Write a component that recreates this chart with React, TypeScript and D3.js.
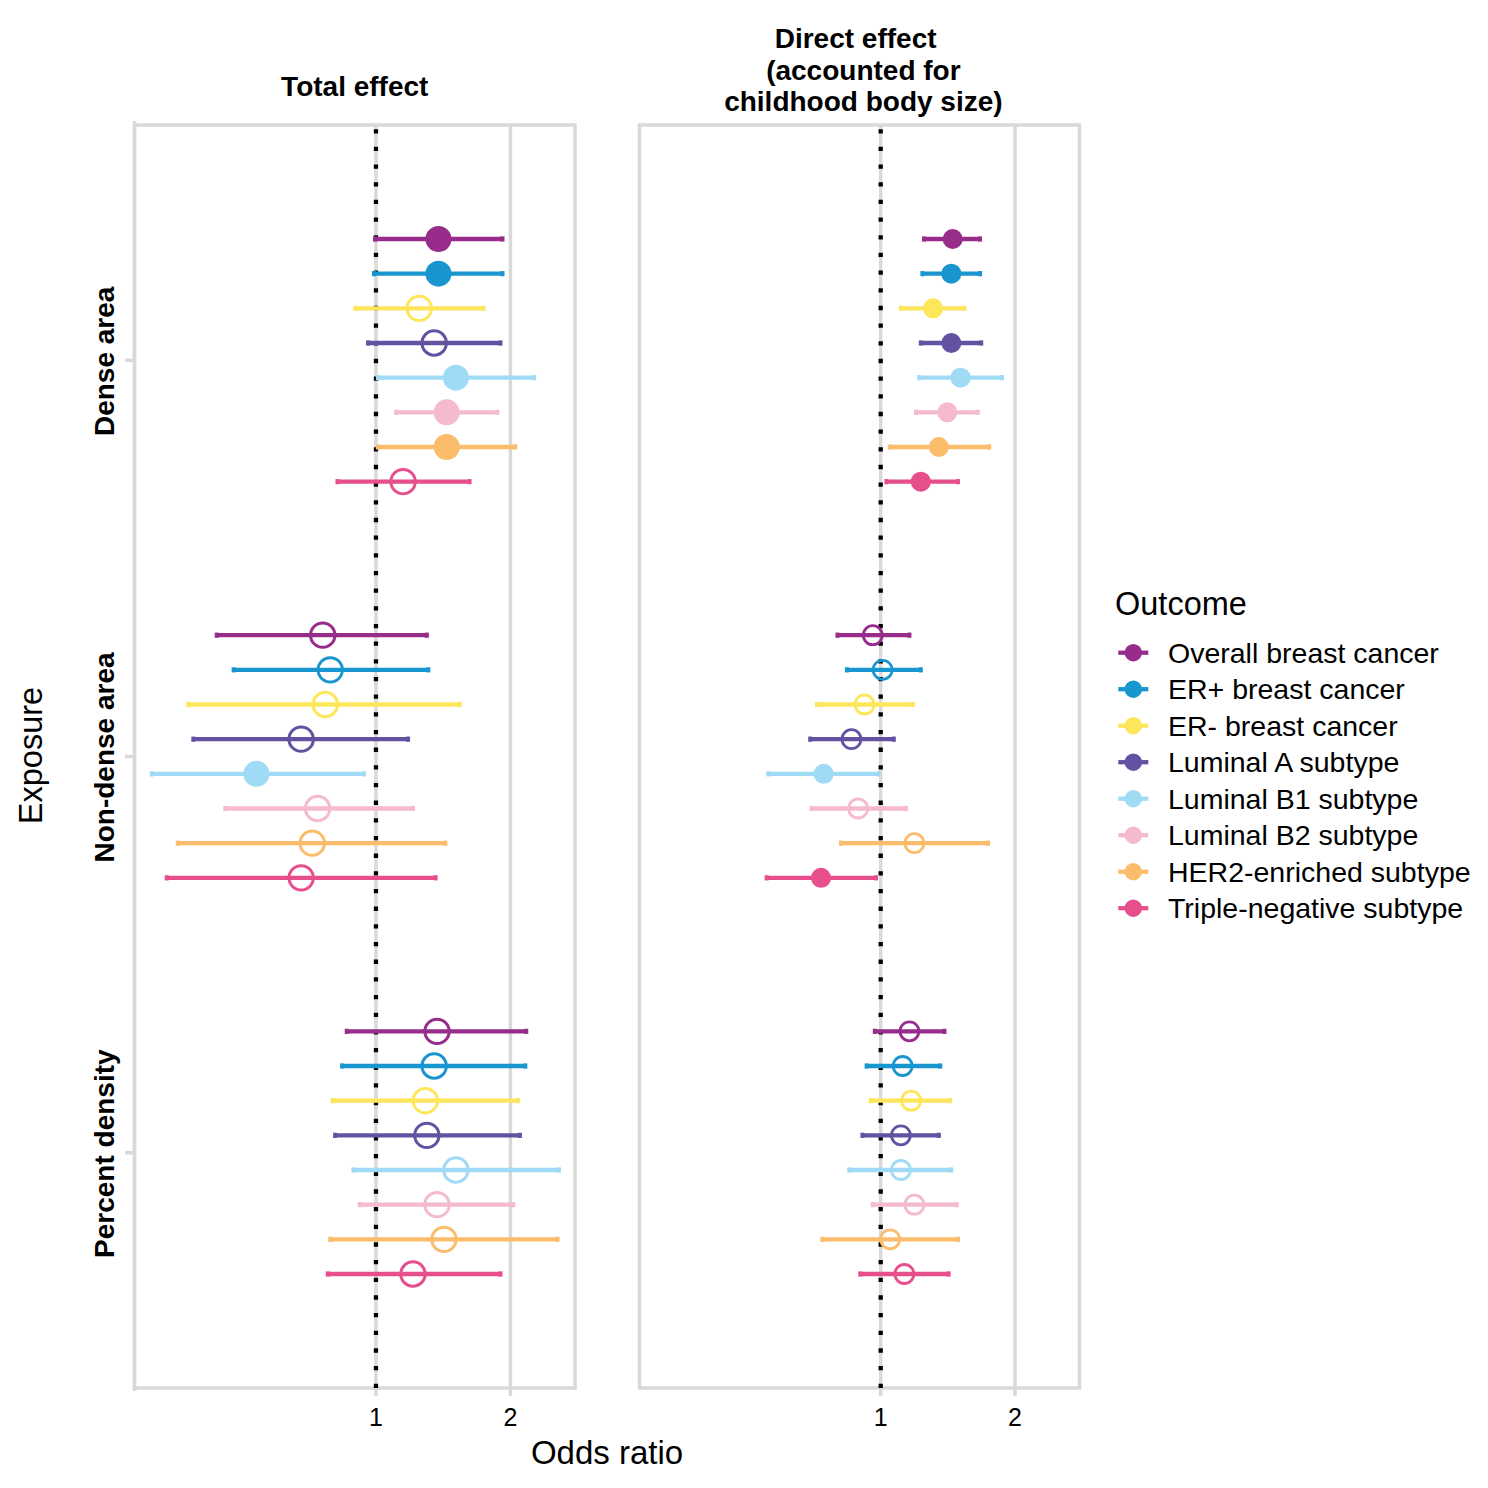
import React from "react";
import * as d3 from "d3";

const outcomes = [
  "Overall breast cancer",
  "ER+ breast cancer",
  "ER- breast cancer",
  "Luminal A subtype",
  "Luminal B1 subtype",
  "Luminal B2 subtype",
  "HER2-enriched subtype",
  "Triple-negative subtype",
];
const outcomeColors = ["#972C8B", "#1996CF", "#FDE65A", "#6352A2", "#9FDBF4", "#F5B9D0", "#FBBC6B", "#E64F8C"];
const exposures = ["Dense area", "Non-dense area", "Percent density"];
const panelTitles = [["Total effect"], ["Direct effect ", " (accounted for", " childhood body size)"]];
const xTicks = [1, 2];

// Total effect (rows: exposures, cols: outcomes)
const totalOR = [
  [1.38, 1.38, 1.25, 1.35, 1.51, 1.44, 1.44, 1.15],
  [0.76, 0.79, 0.77, 0.68, 0.54, 0.74, 0.72, 0.68],
  [1.37, 1.35, 1.29, 1.3, 1.51, 1.37, 1.42, 1.21],
];
const totalLower = [
  [0.995, 0.99, 0.9, 0.96, 1.01, 1.11, 1.01, 0.82],
  [0.44, 0.48, 0.38, 0.39, 0.315, 0.46, 0.36, 0.34],
  [0.86, 0.84, 0.8, 0.81, 0.89, 0.92, 0.79, 0.78],
];
const totalUpper = [
  [1.92, 1.92, 1.74, 1.9, 2.26, 1.87, 2.05, 1.62],
  [1.3, 1.31, 1.54, 1.18, 0.94, 1.21, 1.43, 1.36],
  [2.17, 2.16, 2.08, 2.1, 2.57, 2.03, 2.55, 1.9],
];
const totalSignificant = [
  [1, 1, 0, 0, 1, 1, 1, 0],
  [0, 0, 0, 0, 1, 0, 0, 0],
  [0, 0, 0, 0, 0, 0, 0, 0],
];

// Direct effect
const directOR = [
  [1.45, 1.44, 1.31, 1.44, 1.51, 1.41, 1.35, 1.23],
  [0.96, 1.01, 0.92, 0.86, 0.745, 0.89, 1.19, 0.735],
  [1.16, 1.12, 1.17, 1.11, 1.11, 1.19, 1.05, 1.13],
];
const directLower = [
  [1.25, 1.24, 1.11, 1.23, 1.22, 1.2, 1.05, 1.03],
  [0.8, 0.84, 0.72, 0.695, 0.56, 0.7, 0.815, 0.555],
  [0.97, 0.93, 0.95, 0.91, 0.85, 0.96, 0.74, 0.9],
];
const directUpper = [
  [1.67, 1.67, 1.54, 1.68, 1.87, 1.65, 1.75, 1.49],
  [1.16, 1.23, 1.18, 1.07, 0.99, 1.14, 1.74, 0.976],
  [1.39, 1.36, 1.43, 1.35, 1.44, 1.48, 1.49, 1.42],
];
const directSignificant = [
  [1, 1, 1, 1, 1, 1, 1, 1],
  [0, 0, 0, 0, 1, 0, 0, 1],
  [0, 0, 0, 0, 0, 0, 0, 0],
];

const xDomain: [number, number] = [0.288, 2.79];

const FONT = "'Liberation Sans', Arial, Helvetica, sans-serif";
const GRID = "#d9d9d9";

type Row = { exposure: string; outcome: string; i: number; or: number; lo: number; hi: number; sig: boolean };

function buildRows(or: number[][], lo: number[][], hi: number[][], sig: number[][]): Row[] {
  const rows: Row[] = [];
  exposures.forEach((e, ei) =>
    outcomes.forEach((o, oi) =>
      rows.push({ exposure: e, outcome: o, i: oi, or: or[ei][oi], lo: lo[ei][oi], hi: hi[ei][oi], sig: !!sig[ei][oi] })
    )
  );
  return rows;
}

const panelData = [
  buildRows(totalOR, totalLower, totalUpper, totalSignificant),
  buildRows(directOR, directLower, directUpper, directSignificant),
];

const panelX = [
  [134.5, 575],
  [639.5, 1079.5],
];
const panelTop = 125;
const panelBottom = 1388;
const pointR = [13, 10];
const openR = [12.2, 9.5];
const openStroke = [3, 2.8];

export default function App() {
  const y = d3.scalePoint<string>().domain(exposures).range([panelTop, panelBottom]).padding(0.594);
  const dodge = (i: number) => (i - (outcomes.length - 1) / 2) * ((y.step() * 0.7) / outcomes.length);
  const color = d3.scaleOrdinal<string, string>().domain(outcomes).range(outcomeColors);

  return (
    <svg
      width={1488}
      height={1488}
      style={{ position: "absolute", left: 0, top: 0, background: "#fff", fontFamily: FONT }}
    >
      <rect x={0} y={0} width={1488} height={1488} fill="#fff" />
      {panelData.map((rows, p) => {
        const [x0, x1] = panelX[p];
        const x = d3.scaleLog().domain(xDomain).range([x0, x1]);
        const cx = (x0 + x1) / 2;
        return (
          <g key={p}>
            {panelTitles[p].length === 1 ? (
              <text x={cx} y={96} textAnchor="middle" fontSize={28} fontWeight="bold" style={{ whiteSpace: "pre" }}>
                {panelTitles[p][0]}
              </text>
            ) : (
              panelTitles[p].map((t, k) => (
                <text
                  key={k}
                  x={cx}
                  y={48.3 + k * 31.2}
                  textAnchor="middle"
                  fontSize={28}
                  fontWeight="bold"
                  style={{ whiteSpace: "pre" }}
                >
                  {t}
                </text>
              ))
            )}
            {xTicks.map((t) => (
              <line key={t} x1={x(t)} x2={x(t)} y1={panelTop} y2={panelBottom} stroke={GRID} strokeWidth={3.5} />
            ))}
            <rect x={x0} y={panelTop} width={x1 - x0} height={panelBottom - panelTop} fill="none" stroke={GRID} strokeWidth={3.5} />
            {xTicks.map((t) => (
              <g key={"t" + t}>
                <line x1={x(t)} x2={x(t)} y1={panelBottom} y2={panelBottom + 8} stroke={GRID} strokeWidth={3.5} />
                <text x={x(t)} y={1426} textAnchor="middle" fontSize={25} fill="#000">
                  {t}
                </text>
              </g>
            ))}
            <line
              x1={x(1)}
              x2={x(1)}
              y1={panelBottom}
              y2={panelTop}
              stroke="#000"
              strokeWidth={4.3}
              strokeDasharray="4.3 13.37"
            />
            {rows.map((r) => {
              const yy = (y(r.exposure) as number) + dodge(r.i);
              const c = color(r.outcome);
              return (
                <g key={r.exposure + r.outcome}>
                  <line x1={x(r.lo)} x2={x(r.hi)} y1={yy} y2={yy} stroke={c} strokeWidth={4.3} />
                  <line x1={x(r.lo)} x2={x(r.lo)} y1={yy - 2.6} y2={yy + 2.6} stroke={c} strokeWidth={4} />
                  <line x1={x(r.hi)} x2={x(r.hi)} y1={yy - 2.6} y2={yy + 2.6} stroke={c} strokeWidth={4} />
                  {r.sig ? (
                    <circle cx={x(r.or)} cy={yy} r={pointR[p]} fill={c} />
                  ) : (
                    <circle cx={x(r.or)} cy={yy} r={openR[p]} fill="none" stroke={c} strokeWidth={openStroke[p]} />
                  )}
                </g>
              );
            })}
          </g>
        );
      })}
      <line x1={134.5} x2={134.5} y1={121} y2={1391} stroke={GRID} strokeWidth={3.5} />
      {exposures.map((e) => (
        <g key={e}>
          <line x1={125} x2={134.5} y1={y(e)} y2={y(e)} stroke={GRID} strokeWidth={3.5} />
          <text
            transform={`translate(113.5,${(y(e) as number) + 1}) rotate(-90)`}
            textAnchor="middle"
            fontSize={28}
            fontWeight="bold"
          >
            {e}
          </text>
        </g>
      ))}
      <text transform="translate(42,755.5) rotate(-90)" textAnchor="middle" fontSize={32.5}>
        Exposure
      </text>
      <text x={607} y={1464} textAnchor="middle" fontSize={33}>
        Odds ratio
      </text>
      <text x={1115} y={615} fontSize={32.5}>
        Outcome
      </text>
      {outcomes.map((o, i) => {
        const ly = 652.7 + i * 36.5;
        return (
          <g key={o}>
            <line x1={1118.3} x2={1148.3} y1={ly} y2={ly} stroke={color(o)} strokeWidth={4.3} />
            <circle cx={1133.3} cy={ly} r={8.7} fill={color(o)} />
            <text x={1168} y={ly + 10} fontSize={28.5}>
              {o}
            </text>
          </g>
        );
      })}
    </svg>
  );
}
